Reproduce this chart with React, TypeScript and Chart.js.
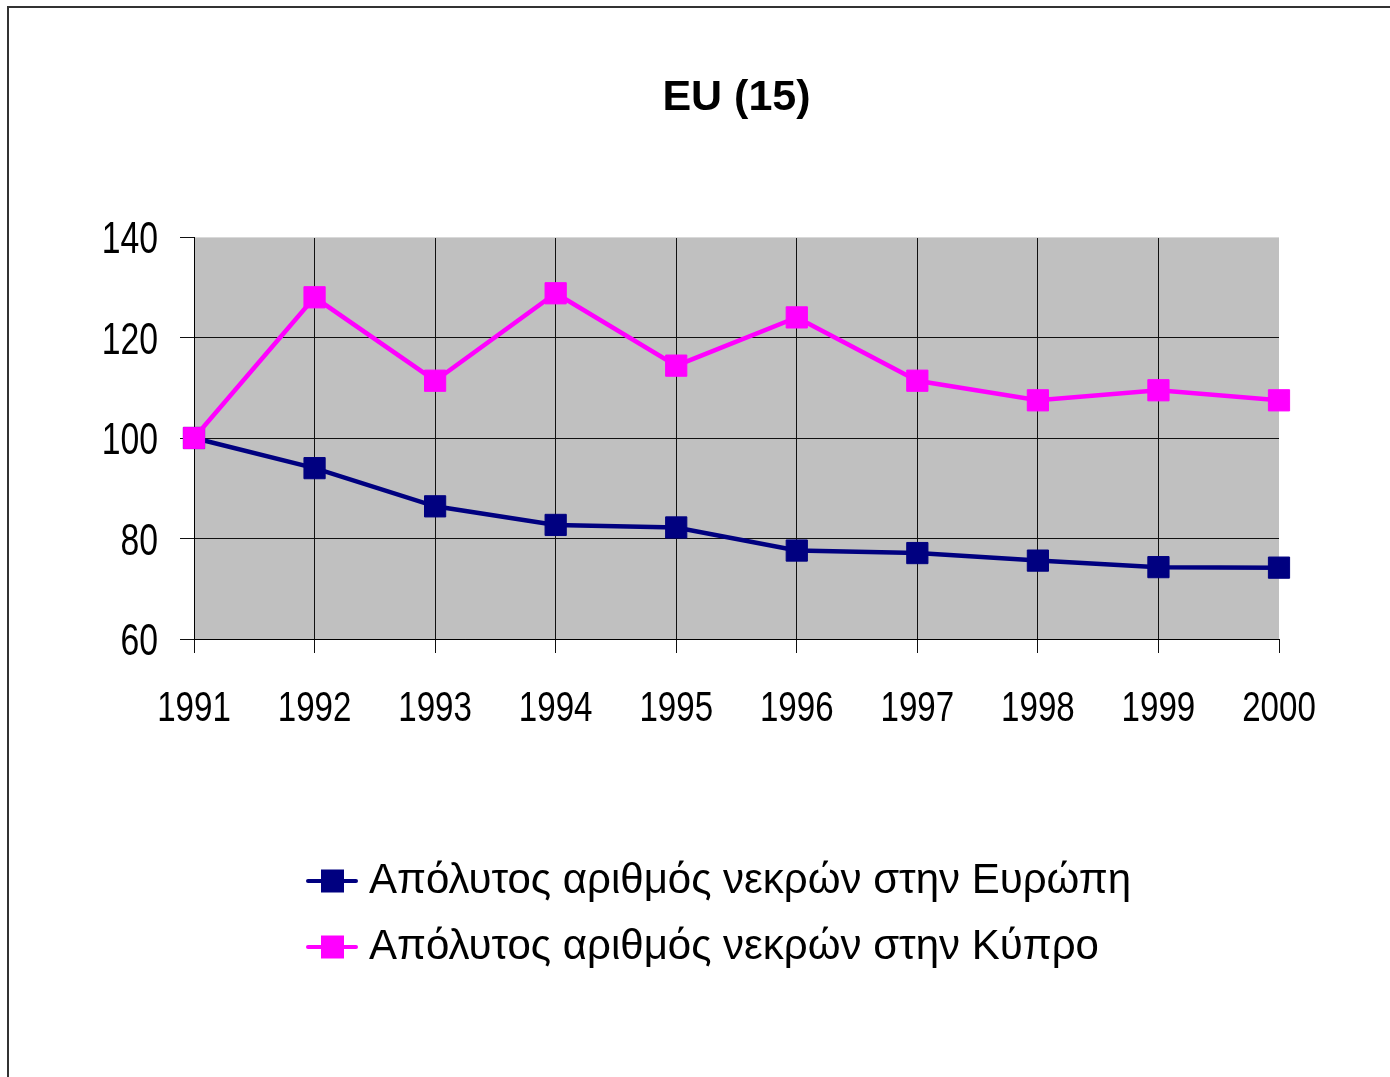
import React, { useEffect, useRef } from 'react';
import { Chart, registerables } from 'chart.js';

Chart.register(...registerables);

const titleText = 'EU (15)';
const years = ['1991', '1992', '1993', '1994', '1995', '1996', '1997', '1998', '1999', '2000'];
const europeValues = [100, 94.0, 86.4, 82.7, 82.2, 77.6, 77.1, 75.6, 74.3, 74.2];
const cyprusValues = [100, 128.0, 111.4, 128.8, 114.4, 124.0, 111.4, 107.5, 109.5, 107.5];
const yTicks = [60, 80, 100, 120, 140];
const seriesLabels = [
  'Απόλυτος αριθμός νεκρών στην Ευρώπη',
  'Απόλυτος αριθμός νεκρών στην Κύπρο',
];
const seriesColors = ['#000080', '#FF00FF'];

const SANS = '"Liberation Sans", Arial, sans-serif';

const plotBackground = {
  id: 'plotBackground',
  beforeDraw(chart: any) {
    const { ctx, chartArea } = chart;
    ctx.save();
    ctx.fillStyle = '#C0C0C0';
    ctx.fillRect(chartArea.left, chartArea.top, chartArea.right - chartArea.left, chartArea.bottom - chartArea.top);
    ctx.restore();
  },
};

// Narrow (condensed) tick labels, placed from the library's own scales
const narrowTickLabels = {
  id: 'narrowTickLabels',
  afterDraw(chart: any) {
    const { ctx } = chart;
    const xs = chart.scales.x;
    const ys = chart.scales.y;
    ctx.save();
    ctx.fillStyle = '#000';
    ctx.textBaseline = 'alphabetic';
    ctx.font = '43px ' + SANS;
    ctx.textAlign = 'center';
    xs.ticks.forEach((t: any, i: number) => {
      const x = xs.getPixelForTick(i);
      ctx.save();
      ctx.translate(x, xs.top + 82);
      ctx.scale(0.77, 1);
      ctx.fillText(String(t.label), 0, 0);
      ctx.restore();
    });
    ctx.font = '45px ' + SANS;
    ctx.textAlign = 'right';
    ys.ticks.forEach((t: any, i: number) => {
      const y = ys.getPixelForTick(i);
      ctx.save();
      ctx.translate(ys.right - 36, y + 16);
      ctx.scale(0.75, 1);
      ctx.fillText(String(t.label), 0, 0);
      ctx.restore();
    });
    ctx.restore();
  },
};

const customLegend = {
  id: 'customLegend',
  afterDraw(chart: any) {
    const { ctx } = chart;
    ctx.save();
    chart.data.datasets.forEach((ds: any, i: number) => {
      const cy = 881 + i * 66;
      const base = 893 + i * 66;
      ctx.strokeStyle = ds.borderColor;
      ctx.lineWidth = 4;
      ctx.lineCap = 'round';
      ctx.beginPath();
      ctx.moveTo(308, cy);
      ctx.lineTo(356, cy);
      ctx.stroke();
      ctx.fillStyle = ds.borderColor;
      ctx.fillRect(321, cy - 11.5, 23, 23);
      ctx.fillStyle = '#000';
      ctx.font = '42px ' + SANS;
      ctx.textBaseline = 'alphabetic';
      ctx.textAlign = 'left';
      ctx.fillText(ds.label, 369, base);
    });
    ctx.restore();
  },
};

export default function App() {
  const ref = useRef<HTMLCanvasElement | null>(null);

  useEffect(() => {
    if (!ref.current) return;
    const lastIdx = years.length - 1;
    const chart = new Chart(ref.current, {
      type: 'line',
      data: {
        labels: years,
        datasets: [
          {
            label: seriesLabels[0],
            data: europeValues,
            borderColor: seriesColors[0],
            backgroundColor: seriesColors[0],
            pointBackgroundColor: seriesColors[0],
            pointBorderColor: seriesColors[0],
            borderWidth: 4.5,
            pointStyle: 'rect',
            pointRadius: 15,
            pointBorderWidth: 1,
            tension: 0,
            order: 1,
          },
          {
            label: seriesLabels[1],
            data: cyprusValues,
            borderColor: seriesColors[1],
            backgroundColor: seriesColors[1],
            pointBackgroundColor: seriesColors[1],
            pointBorderColor: seriesColors[1],
            borderWidth: 4.5,
            pointStyle: 'rect',
            pointRadius: 15,
            pointBorderWidth: 1,
            tension: 0,
            order: 0,
          },
        ],
      },
      options: {
        responsive: false,
        animation: false,
        events: [],
        layout: { padding: { top: 0, left: 0, right: 111, bottom: 338 } },
        plugins: {
          legend: { display: false },
          tooltip: { enabled: false },
          title: {
            display: true,
            fullSize: false,
            text: titleText,
            color: '#000',
            font: { family: SANS, size: 43, weight: 'bold', lineHeight: 1.2 },
            padding: { top: 72, bottom: 113.4 },
          },
        },
        scales: {
          x: {
            type: 'category',
            offset: false,
            afterFit: (scale: any) => {
              scale.height = 100;
            },
            grid: {
              offset: false,
              color: (c: any) => (c.index === lastIdx ? 'rgba(0,0,0,0)' : '#111'),
              tickColor: '#111',
              lineWidth: 1,
              drawTicks: true,
              tickLength: 14,
            },
            border: { display: true, color: '#000', width: 1 },
            ticks: {
              display: false,
              autoSkip: false,
              maxRotation: 0,
            },
          },
          y: {
            min: yTicks[0],
            max: yTicks[yTicks.length - 1],
            afterFit: (scale: any) => {
              scale.width = 194;
            },
            grid: {
              color: (c: any) => (c.tick && c.tick.value === yTicks[yTicks.length - 1] ? '#d9d9d9' : '#111'),
              tickColor: '#111',
              lineWidth: 1,
              drawTicks: true,
              tickLength: 14,
            },
            border: { display: true, color: '#000', width: 1 },
            ticks: {
              display: false,
              stepSize: yTicks[1] - yTicks[0],
            },
          },
        },
      },
      plugins: [plotBackground, narrowTickLabels, customLegend],
    } as any);
    return () => chart.destroy();
  }, []);

  return (
    <div style={{ position: 'absolute', left: 0, top: 0, width: 1390, height: 1077, background: '#fff', overflow: 'hidden' }}>
      <div
        style={{
          position: 'absolute',
          left: 7,
          top: 6,
          width: 1400,
          height: 1100,
          borderLeft: '2px solid #333',
          borderTop: '2px solid #333',
        }}
      />
      <canvas ref={ref} width={1390} height={1077} style={{ position: 'absolute', left: 0, top: 0, width: 1390, height: 1077 }} />
    </div>
  );
}
